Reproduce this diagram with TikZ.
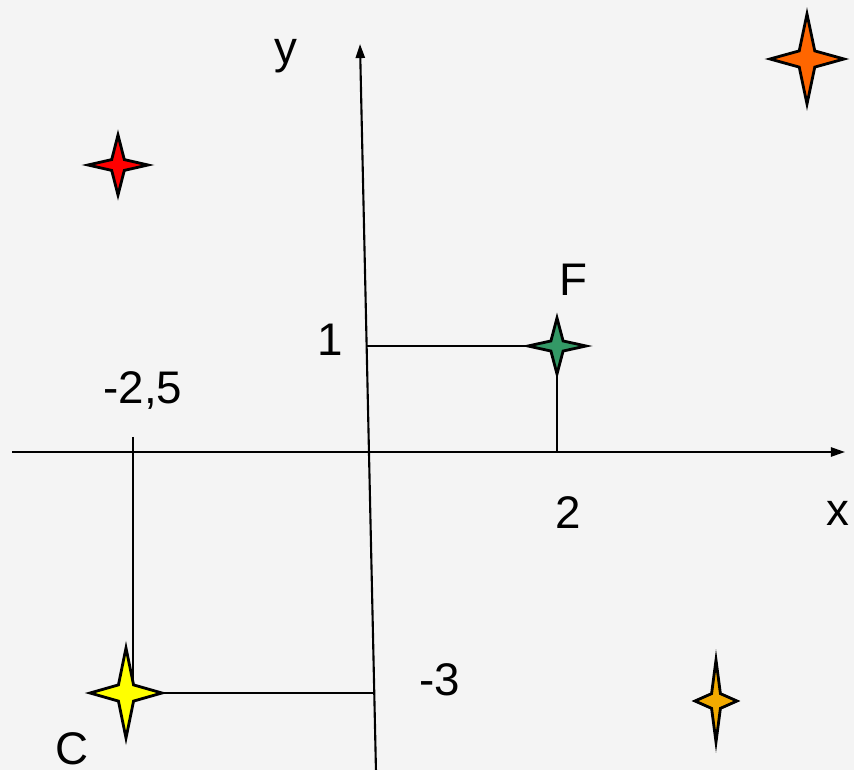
\documentclass[tikz,border=0pt]{standalone}
\usepackage{fontspec}
\setmainfont{Liberation Sans}
\usepackage{tikz}
\usetikzlibrary{arrows.meta, calc, positioning}
\definecolor{cpage}{HTML}{F4F4F4}
\definecolor{cred}{HTML}{FF0000}
\definecolor{corange}{HTML}{FF6600}
\definecolor{cgreen}{HTML}{339966}
\definecolor{cyellow}{HTML}{FFFF00}
\definecolor{camber}{HTML}{F2AA00}

\begin{document}
\begin{tikzpicture}[
  x=0.01cm, y=-0.01cm,
  axis/.style={draw=black, line width=0.6pt, -{Triangle[length=4pt, width=2.6pt]}},
  guide/.style={draw=black, line width=0.5pt},
  starline/.style={draw=black, line width=0.8pt, line join=miter},
  lbl/.style={inner sep=0pt, font=\fontsize{13}{15}\selectfont},
  pics/sparkle/.style n args={3}{code={
    \path[starline, fill=#1]
      (#2,0) -- (0.21*#2,0.18*#3) -- (0,#3) -- (-0.21*#2,0.18*#3) --
      (-#2,0) -- (-0.21*#2,-0.18*#3) -- (0,-#3) -- (0.21*#2,-0.18*#3) -- cycle;
  }}
]

% ============================================================
% Page and frame (pixel grid, y downwards)
\useasboundingbox (0,0) rectangle (854,770);
\fill[cpage] (0,0) rectangle (854,770);

% Axes: the y axis leans slightly
\coordinate (xl) at (12,452);
\coordinate (xr) at (845,452);
\coordinate (yb) at (376,772);
\coordinate (yt) at (360,44);
\draw[axis] (xl) -- (xr);
\draw[axis] (yb) -- (yt);

% Star centres
\coordinate (sred)    at (118,165);
\coordinate (sorange) at (807,59);
\coordinate (sF)      at (557,346);
\coordinate (sC)      at (126,693);
\coordinate (samber)  at (716,701);

% Guide lines from F and C to the axes
\coordinate (fy) at (intersection of yb--yt and sF--{$(sF)+(1,0)$});
\coordinate (fx) at (sF |- xl);
\draw[guide] (fy) -- (sF);
\draw[guide] (sF) -- (fx);
\coordinate (cy) at (intersection of yb--yt and sC--{$(sC)+(1,0)$});
\coordinate (ct) at (133,437);
\coordinate (cb) at (133,693);
\draw[guide] (sC) -- (cy);
\draw[guide] (ct) -- (cb);

% Four-pointed stars
\pic at (sred)    {sparkle={cred}{30}{30}};
\pic at (sorange) {sparkle={corange}{37}{45}};
\pic at (sF)      {sparkle={cgreen}{29}{28}};
\pic at (sC)      {sparkle={cyellow}{36}{45}};
\pic at (samber)  {sparkle={camber}{21}{41}};

% Labels
\node[lbl] (ylab)  at (286,56)  {y};
\node[lbl] (xlab)  at (838,513) {x};
\node[lbl] (one)   at (330,340) {1};
\node[lbl] (two)   at (568,513) {2};
\node[lbl] (mtwo)  at (143,390) {-2,5};
\node[lbl] (mthr)  at (440,680) {-3};
\node[lbl] (flab)  at (573,280) {F};
\node[lbl] (clab)  at (72,749)  {C};

\end{tikzpicture}
\end{document}
